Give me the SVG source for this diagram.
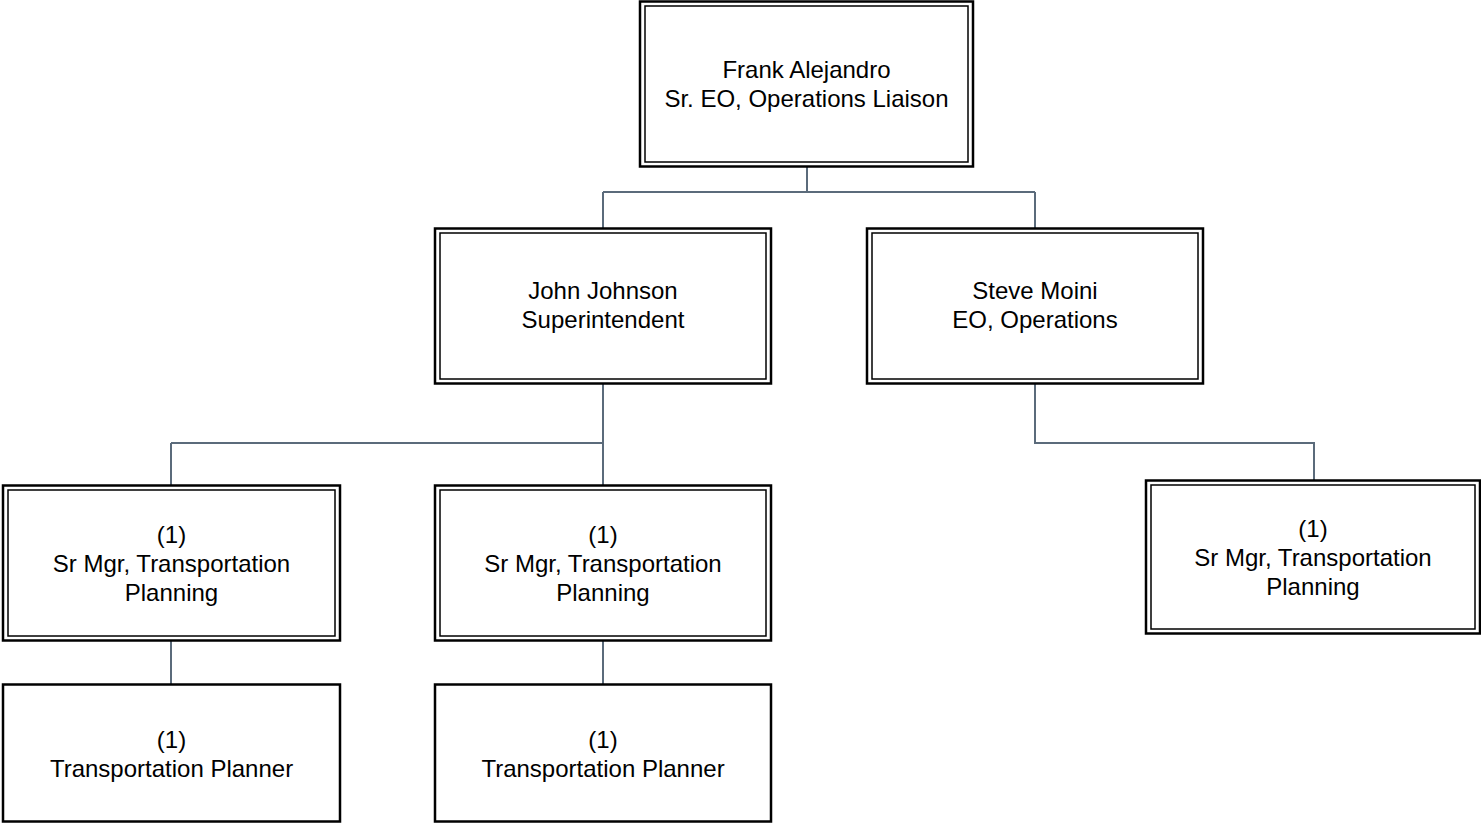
<svg xmlns="http://www.w3.org/2000/svg" width="1481" height="823" viewBox="0 0 1481 823">
<style>
.o{fill:#fff;stroke:#000;stroke-width:2.5}
.i{fill:none;stroke:#000;stroke-width:1.5}
.s{fill:#fff;stroke:#000;stroke-width:2.5}
.c{fill:none;stroke:#5b6b7b;stroke-width:2}
text{font-family:"Liberation Sans",Arial,sans-serif;font-size:24px;fill:#000;text-anchor:middle}
</style>
<rect width="1481" height="823" fill="#fff"/>
<g id="connectors">
<path class="c" d="M807,167V192M603,192H1035M603,192V228M1035,192V228"/>
<path class="c" d="M603,383V485M171,443H603M171,443V485"/>
<path class="c" d="M1035,383V443H1314V480"/>
<path class="c" d="M171,641V684M603,641V684"/>
</g>
<g id="frank">
<rect class="o" x="640" y="1.5" width="333" height="165"/>
<rect class="i" x="645" y="6" width="323" height="156"/>
<text x="806.5" y="77.5">Frank Alejandro</text>
<text x="806.5" y="106.5">Sr. EO, Operations Liaison</text>
</g>
<g id="john">
<rect class="o" x="435" y="228.5" width="336" height="155"/>
<rect class="i" x="440" y="233" width="326" height="146"/>
<text x="603" y="298.5">John Johnson</text>
<text x="603" y="327.5">Superintendent</text>
</g>
<g id="steve">
<rect class="o" x="867" y="228.5" width="336" height="155"/>
<rect class="i" x="872" y="233" width="326" height="146"/>
<text x="1035" y="298.5">Steve Moini</text>
<text x="1035" y="327.5">EO, Operations</text>
</g>
<g id="srmgr1">
<rect class="o" x="3" y="485.5" width="337" height="155"/>
<rect class="i" x="8" y="490" width="327" height="146"/>
<text x="171.5" y="542.5">(1)</text>
<text x="171.5" y="571.5">Sr Mgr, Transportation</text>
<text x="171.5" y="600.5">Planning</text>
</g>
<g id="srmgr2">
<rect class="o" x="435" y="485.5" width="336" height="155"/>
<rect class="i" x="440" y="490" width="326" height="146"/>
<text x="603" y="542.5">(1)</text>
<text x="603" y="571.5">Sr Mgr, Transportation</text>
<text x="603" y="600.5">Planning</text>
</g>
<g id="srmgr3">
<rect class="o" x="1146" y="480.5" width="334" height="153"/>
<rect class="i" x="1151" y="485" width="324" height="144"/>
<text x="1313" y="536.5">(1)</text>
<text x="1313" y="565.5">Sr Mgr, Transportation</text>
<text x="1313" y="594.5">Planning</text>
</g>
<g id="planner1">
<rect class="s" x="3" y="684.5" width="337" height="137"/>
<text x="171.5" y="747.5">(1)</text>
<text x="171.5" y="776.5">Transportation Planner</text>
</g>
<g id="planner2">
<rect class="s" x="435" y="684.5" width="336" height="137"/>
<text x="603" y="747.5">(1)</text>
<text x="603" y="776.5">Transportation Planner</text>
</g>
</svg>
